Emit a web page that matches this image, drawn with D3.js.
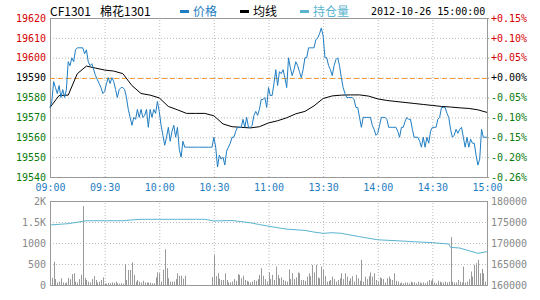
<!DOCTYPE html>
<html>
<head>
<meta charset="utf-8">
<script src="https://cdn.jsdelivr.net/npm/d3@7"></script>
<style>
body { margin: 0; background: #fff; }
text { font-family: "DejaVu Sans Mono", monospace; font-size: 10px; }
.grid line { stroke: #bbb; stroke-dasharray: 1,2; }
.grid path { display: none; }
</style>
</head>
<body>
<div id="graph"></div>
<script>
// ---- data ----
const timeLabels = ["09:00", "09:30", "10:00", "10:30", "11:00", "13:30", "14:00", "14:30", "15:00"]
const timeTicks = [0, 30, 60, 90, 120, 150, 180, 210, 240] // minutes of trading
const priceTicks = [19620, 19610, 19600, 19590, 19580, 19570, 19560, 19550, 19540]
const pctLabels = ["+0.15%", "+0.10%", "+0.05%", "+0.00%", "-0.05%", "-0.10%", "-0.15%", "-0.20%", "-0.26%"]
const preSettle = 19590
const volTicks = [0, 500, 1000, 1500, 2000]
const volTickLabels = ["0", "500", "1000", "1.5K", "2K"]
const oiTicks = [160000, 165000, 170000, 175000, 180000]

// price, one per minute 09:00 .. 15:00
const price = [
    19575, 19578, 19588, 19585, 19582, 19586, 19580, 19584, 19580, 19584,
    19598, 19596, 19600, 19598, 19604, 19605, 19605, 19605, 19605, 19602,
    19604, 19598, 19596, 19597, 19594, 19591, 19589, 19587, 19585, 19582,
    19583, 19587, 19590, 19587, 19590, 19588, 19584, 19580, 19584, 19585,
    19585, 19584, 19580, 19574, 19570, 19566, 19570, 19569, 19574, 19570,
    19574, 19570, 19571, 19574, 19565, 19574, 19570, 19574, 19572, 19578,
    19573, 19566, 19561, 19556, 19560, 19565, 19558, 19563, 19566, 19560,
    19565, 19554, 19550, 19558, 19555, 19555, 19555, 19555, 19555, 19555,
    19555, 19555, 19555, 19555, 19555, 19555, 19555, 19555, 19555, 19555,
    19560, 19555, 19545, 19551, 19549, 19550, 19546, 19553, 19555, 19557,
    19560, 19560, 19563, 19565, 19565, 19565, 19569, 19565, 19570, 19565,
    19565, 19566, 19571, 19573, 19571, 19574, 19579, 19579, 19580, 19575,
    19585, 19581, 19581, 19587, 19594, 19586, 19593, 19592, 19594, 19590,
    19585, 19600, 19595, 19591, 19594, 19598, 19596, 19593, 19590, 19594,
    19600, 19600, 19605, 19605, 19605, 19605, 19609, 19610, 19612, 19615,
    19611, 19600, 19600, 19596, 19594, 19591, 19596, 19599, 19600, 19596,
    19590, 19585, 19582, 19580, 19580, 19580, 19580, 19579, 19575, 19575,
    19570, 19565, 19570, 19570, 19570, 19570, 19570, 19566, 19564, 19561,
    19562, 19566, 19570, 19570, 19570, 19569, 19565, 19565, 19565, 19565,
    19565, 19563, 19560, 19565, 19565, 19568, 19570, 19569, 19569, 19564,
    19560, 19560, 19560, 19558, 19555, 19560, 19555, 19560, 19557, 19563,
    19565, 19565, 19565, 19569, 19570, 19575, 19575, 19575, 19572, 19570,
    19564, 19560, 19561, 19564, 19562, 19564, 19565, 19560, 19555, 19560,
    19555, 19559, 19557, 19557, 19551, 19546, 19549, 19564, 19560, 19560,
    19560
]

// average price, one every 5 minutes
const avgPrice = [
    19575, 19581, 19581.2, 19592, 19595.8, 19594.8, 19593.8, 19593.3, 19592, 19586,
    19582, 19581.2, 19579.8, 19575.5, 19573.8, 19572, 19572, 19572, 19570.8, 19566.7,
    19565.3, 19565, 19564.7, 19565.3, 19567.2, 19568.3, 19569.8, 19571.8, 19573, 19575.8,
    19579.5, 19580.8, 19581.2, 19581.3, 19581.3, 19580.7, 19579.3, 19578.5, 19578, 19577.5,
    19577, 19576.5, 19576, 19575.5, 19575.2, 19574.8, 19574.5, 19573.8, 19572.5
]

// volume, one per minute (10:15-10:30 break has none)
const volume = [
    150, 170, 550, 140, 60, 80, 160, 60, 40, 60,
    170, 140, 260, 280, 80, 60, 140, 240, 1880, 170,
    120, 80, 60, 140, 210, 120, 60, 80, 120, 180,
    40, 30, 50, 40, 60, 50, 80, 40, 30, 40,
    30, 500, 120, 360, 360, 540, 240, 80, 120, 80,
    60, 100, 60, 60, 60, 50, 40, 40, 180, 300,
    280, 80, 360, 850, 400, 160, 80, 80, 80, 140,
    280, 220, 220, 150, 220, 0, 0, 0, 0, 0,
    0, 0, 0, 0, 0, 0, 0, 0, 0, 190,
    710, 210, 280, 150, 120, 120, 280, 120, 60, 60,
    80, 140, 100, 260, 240, 160, 220, 120, 100, 80,
    60, 80, 120, 100, 140, 240, 400, 220, 140, 80,
    300, 140, 240, 120, 440, 240, 160, 180, 120, 100,
    80, 370, 140, 280, 140, 180, 300, 280, 120, 120,
    100, 200, 280, 210, 480, 300, 480, 180, 160, 440,
    360, 210, 80, 100, 120, 200, 140, 80, 120, 160,
    280, 140, 280, 200, 100, 160, 210, 80, 240, 160,
    100, 600, 80, 200, 140, 210, 300, 200, 280, 120,
    80, 180, 160, 140, 60, 160, 200, 140, 120, 280,
    100, 80, 40, 60, 40, 60, 60, 40, 80, 60,
    60, 40, 80, 60, 40, 60, 40, 80, 120, 100,
    140, 60, 40, 100, 80, 60, 60, 80, 60, 80,
    1140, 80, 60, 60, 120, 80, 60, 440, 60, 80,
    140, 320, 200, 480, 520, 600, 280, 380, 280, 80,
    360
]

// open interest
const oiTimes = [0, 5, 10, 15, 20, 30, 40, 45, 50, 60, 70, 80, 85, 90, 100, 105, 110, 115, 120, 125,
    130, 140, 145, 150, 155, 160, 170, 180, 190, 200, 210, 219, 220, 225, 230, 235, 240]
const oiValues = [174290, 174450, 174600, 174950, 175300, 175300, 175300, 175500, 175640, 175640, 175640, 175640, 175640, 175250, 175350, 175100, 174800, 174400, 174000, 173650,
    173300, 173000, 172600, 172300, 172450, 172300, 171500, 170760, 170550, 170300, 170080, 169760, 168970, 168800, 168170, 167540, 167940]

// ---- layout ----
const width = 540, height = 300
const left = 50, w = 437
const mainTop = 18, mainH = 159
const volTop = 201, volH = 84

const red = "#d40000", green = "#0a7a0a", blue = "#1f7dc2", gray = "#888"

const svg = d3.select("#graph")
    .append("svg")
    .attr("width", width)
    .attr("height", height)

const x = d3.scaleLinear().domain([0, 240]).range([left, left + w])
const y = d3.scaleLinear().domain([19540, 19620]).range([mainTop + mainH, mainTop])
const yVol = d3.scaleLinear().domain([0, 2000]).range([volTop + volH, volTop])
const yOi = d3.scaleLinear().domain([160000, 180000]).range([volTop + volH, volTop])

const tone = v => v > preSettle ? red : (v < preSettle ? green : "#000")

// ---- main panel grid ----
svg.append("g").attr("class", "grid")
    .attr("transform", `translate(${left},0)`)
    .call(d3.axisLeft(y).tickValues(priceTicks).tickSize(-w).tickFormat(""))

svg.append("g").attr("class", "grid")
    .attr("transform", `translate(0,${mainTop + mainH})`)
    .call(d3.axisBottom(x).tickValues(timeTicks).tickSize(-mainH).tickFormat(""))

svg.append("rect") // frame
    .attr("x", left + 0.5).attr("y", mainTop + 0.5)
    .attr("width", w).attr("height", mainH)
    .attr("fill", "none").attr("stroke", "#999")

// pre-settle line
svg.append("line")
    .attr("x1", left).attr("x2", left + w)
    .attr("y1", Math.round(y(preSettle)) + 0.5).attr("y2", Math.round(y(preSettle)) + 0.5)
    .attr("stroke", "#f0a030").attr("stroke-dasharray", "5,3")

// avg line
svg.append("path")
    .datum(avgPrice)
    .attr("fill", "none").attr("stroke", "#000").attr("stroke-width", 1)
    .attr("d", d3.line().x((d, i) => x(i * 5)).y(d => y(d)))

// price line
svg.append("path")
    .datum(price)
    .attr("fill", "none").attr("stroke", blue).attr("stroke-width", 1)
    .attr("d", d3.line().x((d, i) => x(i)).y(d => y(d)))

// left price axis
const leftAxis = svg.append("g")
    .attr("transform", `translate(${left},0)`)
    .call(d3.axisLeft(y).tickValues(priceTicks).tickSize(0).tickPadding(4)
        .tickFormat(d3.format("d")))
leftAxis.select(".domain").remove()
leftAxis.selectAll("text").attr("fill", d => tone(d))

// right percent axis
const rightAxis = svg.append("g")
    .attr("transform", `translate(${left + w},0)`)
    .call(d3.axisRight(y).tickValues(priceTicks).tickSize(2).tickPadding(2)
        .tickFormat((d, i) => pctLabels[i]))
rightAxis.select(".domain").remove()
rightAxis.selectAll("line").attr("stroke", "#999")
rightAxis.selectAll("text").attr("fill", d => tone(d))

// time axis
const timeAxis = svg.append("g")
    .attr("transform", `translate(0,${mainTop + mainH})`)
    .call(d3.axisBottom(x).tickValues(timeTicks).tickSize(0).tickPadding(7)
        .tickFormat((d, i) => timeLabels[i]))
timeAxis.select(".domain").remove()
timeAxis.selectAll("text").attr("fill", blue)

// ---- lower panel ----
svg.append("g").attr("class", "grid")
    .attr("transform", `translate(${left},0)`)
    .call(d3.axisLeft(yVol).tickValues(volTicks).tickSize(-w).tickFormat(""))

svg.append("g").attr("class", "grid")
    .attr("transform", `translate(0,${volTop + volH})`)
    .call(d3.axisBottom(x).tickValues(timeTicks).tickSize(-volH).tickFormat(""))

svg.selectAll(".vol")
    .data(volume)
    .enter()
    .append("line")
    .attr("class", "vol")
    .attr("x1", (d, i) => Math.round(x(i)) + 0.5)
    .attr("x2", (d, i) => Math.round(x(i)) + 0.5)
    .attr("y1", yVol(0))
    .attr("y2", d => yVol(d))
    .attr("stroke", "#999")
    .attr("stroke-width", 1)

svg.append("path")
    .datum(oiValues)
    .attr("fill", "none").attr("stroke", "#5ab4cf").attr("stroke-width", 1)
    .attr("d", d3.line().x((d, i) => x(oiTimes[i])).y(d => yOi(d)))

svg.append("rect")
    .attr("x", left + 0.5).attr("y", volTop + 0.5)
    .attr("width", w).attr("height", volH)
    .attr("fill", "none").attr("stroke", "#999")

const volAxis = svg.append("g")
    .attr("transform", `translate(${left},0)`)
    .call(d3.axisLeft(yVol).tickValues(volTicks).tickSize(0).tickPadding(4)
        .tickFormat((d, i) => volTickLabels[i]))
volAxis.select(".domain").remove()
volAxis.selectAll("text").attr("fill", gray)

const oiAxis = svg.append("g")
    .attr("transform", `translate(${left + w},0)`)
    .call(d3.axisRight(yOi).tickValues(oiTicks).tickSize(0).tickPadding(4)
        .tickFormat(d3.format("d")))
oiAxis.select(".domain").remove()
oiAxis.selectAll("text").attr("fill", gray)

// ---- header ----
const head = svg.append("g").style("font-family", "'Noto Sans CJK SC', 'Noto Sans', sans-serif")
head.append("text").attr("x", 50).attr("y", 16).style("font-size", "12px").style("font-family", "inherit").text("CF1301")
head.append("text").attr("x", 100).attr("y", 16).style("font-size", "12px").style("font-family", "inherit").text("棉花1301")

const legend = [
    { label: "价格", color: blue, x: 180 },
    { label: "均线", color: "#000", x: 240 },
    { label: "持仓量", color: "#5ab4cf", x: 300 }
]
legend.forEach(l => {
    head.append("rect").attr("x", l.x).attr("y", 10).attr("width", 9).attr("height", 3).attr("fill", l.color)
    head.append("text").attr("x", l.x + 13).attr("y", 16)
        .style("font-size", "12px").style("font-family", "inherit")
        .attr("fill", l.color).text(l.label)
})

svg.append("text").attr("x", 371).attr("y", 15).text("2012-10-26 15:00:00")
</script>
</body>
</html>
